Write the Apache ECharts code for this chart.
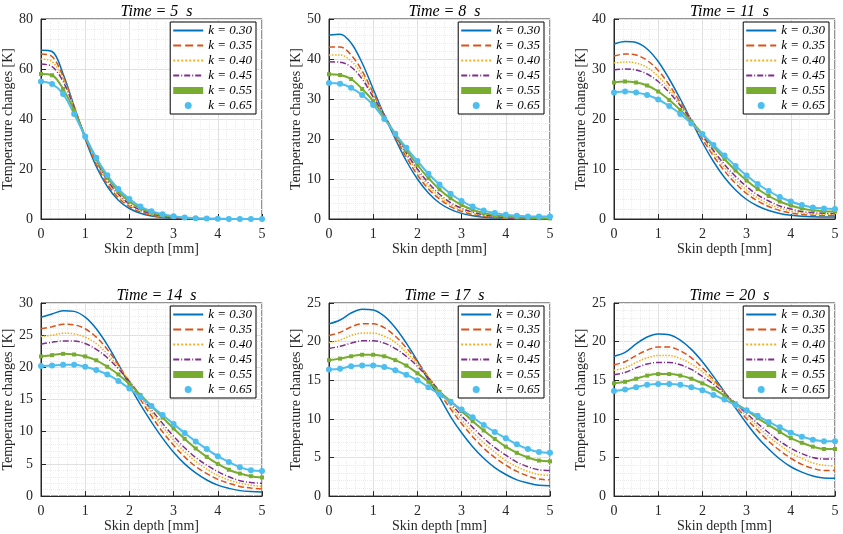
<!DOCTYPE html>
<html>
<head>
<meta charset="utf-8">
<script src="https://cdn.jsdelivr.net/npm/echarts@6/dist/echarts.min.js"></script>
<style>html,body{margin:0;background:#fff}#box{width:843px;height:534px}</style>
</head>
<body>
<div id="box"></div>
<script>
// skin depth samples (mm)
var depth = [0,0.25,0.5,0.75,1,1.25,1.5,1.75,2,2.25,2.5,2.75,3,3.25,3.5,3.75,4,4.25,4.5,4.75,5];
var kNames = ['k = 0.30','k = 0.35','k = 0.40','k = 0.45','k = 0.55','k = 0.65'];
var times = [5, 8, 11, 14, 17, 20];
var yMax = [80, 50, 40, 30, 25, 25];
var yStep = [20, 10, 10, 5, 5, 5];

var t5 = [
  [67.5,67,58,45,32,21,13,7.5,4.2,2.3,1.2,0.6,0.3,0.15,0.07,0.03,0.01,0,0,0,0],
  [66,65,57,45,32.5,22,14,8.5,5,2.8,1.5,0.8,0.4,0.2,0.1,0.05,0.02,0,0,0,0],
  [64,63,56,45,33,23,15,9.3,5.6,3.2,1.8,1,0.5,0.25,0.12,0.06,0.03,0.01,0,0,0],
  [62,61,55,44.5,33,23.5,15.5,10,6,3.6,2.1,1.2,0.6,0.3,0.15,0.08,0.04,0.02,0.01,0,0],
  [58,57.5,52,43.5,33,24,16.5,11,7,4.3,2.6,1.5,0.85,0.45,0.24,0.12,0.06,0.03,0.02,0.01,0],
  [55,54,50,42,33,24.5,17.5,12,8,5,3.1,1.9,1.1,0.6,0.35,0.2,0.1,0.05,0.03,0.02,0.01]
];
var t8 = [
  [46,46.2,44,39,32.5,26,20,14.5,10,6.5,4,2.4,1.4,0.8,0.45,0.25,0.12,0.06,0.03,0.01,0],
  [43,43,41,37,31.5,26,20.5,15.5,11,7.5,5,3.1,1.9,1.1,0.65,0.36,0.2,0.1,0.05,0.03,0.01],
  [41,41,39.5,36,31,26,21,16,11.8,8.3,5.6,3.6,2.3,1.4,0.85,0.5,0.28,0.15,0.08,0.05,0.03],
  [39.3,39.2,38,35,30.5,26,21,16.5,12.5,9,6.2,4.1,2.7,1.7,1.05,0.65,0.38,0.22,0.13,0.08,0.05],
  [36.2,36,35,32.5,29.5,25.5,21.2,17.2,13.5,10.2,7.4,5.2,3.5,2.3,1.5,1,0.65,0.4,0.28,0.2,0.15],
  [34,33.8,32.8,31,28.5,25,21.3,17.8,14.5,11.3,8.6,6.3,4.5,3.1,2.1,1.5,1.05,0.8,0.65,0.6,0.6]
];
var t11 = [
  [35,35.5,35.3,34,31.5,28,24,19.7,15.3,11.5,8.3,5.8,3.9,2.6,1.7,1.1,0.75,0.55,0.45,0.4,0.4],
  [32.6,33,32.8,31.7,29.7,26.8,23.3,19.7,16,12.6,9.6,7.1,5.1,3.6,2.5,1.7,1.2,0.9,0.75,0.7,0.7],
  [31.2,31.4,31.2,30.3,28.5,26,23,19.8,16.4,13.2,10.3,7.8,5.8,4.2,3,2.2,1.6,1.2,1,0.95,0.95],
  [29.8,30,29.8,29,27.5,25.3,22.7,19.8,16.7,13.7,10.9,8.5,6.5,4.8,3.6,2.6,2,1.5,1.25,1.15,1.1],
  [27.3,27.5,27.3,26.7,25.5,23.8,21.8,19.5,17,14.5,12,9.7,7.7,6,4.6,3.5,2.7,2.1,1.75,1.55,1.5],
  [25.3,25.5,25.3,24.8,23.9,22.6,21,19.1,17,14.8,12.7,10.6,8.7,7,5.6,4.4,3.5,2.8,2.3,2.1,2]
];
var t14 = [
  [27.8,28.3,28.8,28.7,27.8,26,23.5,20.5,17.2,14.2,11.5,9,6.8,5,3.6,2.5,1.7,1.2,0.85,0.7,0.65],
  [26,26.3,26.7,26.6,26,24.7,22.8,20.4,17.7,15,12.4,10,7.9,6.1,4.6,3.5,2.6,2,1.5,1.25,1.1],
  [24.8,25,25.3,25.2,24.7,23.7,22.1,20.1,17.9,15.4,13,10.8,8.7,6.9,5.4,4.2,3.2,2.5,2,1.7,1.5],
  [23.6,23.9,24.1,24.1,23.7,22.8,21.5,19.8,17.8,15.6,13.4,11.3,9.3,7.5,6,4.8,3.8,3,2.4,2.1,2],
  [21.7,21.9,22.1,22,21.7,21.1,20.1,18.9,17.4,15.7,14,12.2,10.5,8.9,7.4,6.1,5,4.1,3.5,3.1,2.9],
  [20.2,20.3,20.4,20.4,20.1,19.6,18.9,17.9,16.7,15.4,14,12.6,11.2,9.8,8.5,7.3,6.2,5.3,4.5,4,3.9]
];
var t17 = [
  [22.3,22.8,23.7,24.2,24.1,23.3,21.8,19.8,17.5,15,12.8,10.3,8.2,6.4,4.9,3.7,2.8,2.1,1.7,1.4,1.35],
  [20.8,21.2,21.9,22.3,22.3,21.8,20.7,19.2,17.4,15.4,13.3,11.3,9.4,7.7,6.2,5,4,3.2,2.6,2.2,2.1],
  [19.9,20.2,20.8,21.1,21.1,20.7,19.9,18.6,17.1,15.4,13.5,11.7,9.9,8.3,6.9,5.7,4.6,3.8,3.2,2.8,2.7],
  [19.1,19.4,19.8,20.1,20.1,19.8,19.1,18.1,16.8,15.3,13.6,12,10.4,8.9,7.5,6.3,5.3,4.4,3.8,3.4,3.3],
  [17.6,17.8,18.1,18.3,18.3,18.1,17.6,16.9,15.9,14.8,13.5,12.3,11,9.7,8.5,7.4,6.4,5.6,5,4.6,4.5],
  [16.4,16.5,16.8,16.9,16.9,16.7,16.3,15.7,15,14.1,13.2,12.2,11.2,10.2,9.2,8.3,7.5,6.7,6.1,5.7,5.6]
];
var t20 = [
  [18.1,18.6,19.7,20.6,21,20.9,20.2,19,17.4,15.5,13.5,11.4,9.4,7.6,6.1,4.8,3.8,3.1,2.6,2.35,2.3],
  [17,17.4,18.2,18.9,19.3,19.3,18.8,17.9,16.6,15.1,13.4,11.7,10,8.5,7.1,5.9,4.9,4.1,3.6,3.3,3.3],
  [16.3,16.6,17.3,17.9,18.2,18.2,17.8,17.1,16.1,14.8,13.4,11.8,10.4,9,7.7,6.6,5.6,4.9,4.3,4,3.9],
  [15.7,16,16.6,17.1,17.3,17.3,17,16.4,15.5,14.5,13.3,12,10.7,9.4,8.2,7.1,6.2,5.5,5,4.8,4.8],
  [14.6,14.8,15.2,15.6,15.8,15.8,15.6,15.2,14.6,13.9,13,12,11.1,10.1,9.2,8.3,7.5,6.9,6.4,6.1,6.1],
  [13.6,13.8,14.1,14.4,14.5,14.5,14.4,14.1,13.7,13.1,12.5,11.8,11.1,10.4,9.6,8.9,8.2,7.7,7.3,7.1,7.1]
];
var allData = [t5, t8, t11, t14, t17, t20];

var colors = ['#0072BD','#D95319','#EDB120','#7E2F8E','#77AC30','#4DBEEE'];
var lineTypes = ['solid','dashed','dotted',[6,2,1,2],'solid','solid'];
var symbols = ['none','none','none','none','rect','circle'];
var serif = 'Liberation Serif';

var gridLeft = [41, 329, 614];
var gridTop = [19, 303];
var gw = 221, gh = 200;

// legend entries: hide the marker for the plain lines
var legendData = kNames.map(function (n, i) {
    if (symbols[i] === 'none') return {name: n, itemStyle: {opacity: 0}};
    return {name: n, icon: symbols[i]};
});

var myChart = echarts.init(document.getElementById('box'));
var option = {
    animation: false,
    title: [], grid: [], xAxis: [], yAxis: [], legend: [], series: []
};

for (var p = 0; p < 6; p++) {
    var L = gridLeft[p % 3], T = gridTop[Math.floor(p / 3)];
    option.title.push({
        text: 'Time = ' + times[p] + '  s',
        left: L + gw / 2, top: T - 20, textAlign: 'center',
        textStyle: {fontFamily: serif, fontStyle: 'italic', fontWeight: 'normal', fontSize: 16, color: '#000'}
    });
    option.grid.push({left: L, top: T, width: gw, height: gh, show: true, borderColor: '#262626', borderWidth: 1});
    var axisCommon = {
        axisLine: {onZero: false, lineStyle: {color: '#262626'}},
        axisTick: {inside: true, lineStyle: {color: '#262626'}},
        axisLabel: {fontFamily: serif, fontSize: 14, color: '#262626'},
        splitLine: {lineStyle: {color: '#e0e0e0'}},
        minorTick: {show: true, splitNumber: 5, length: 0},
        minorSplitLine: {show: true, lineStyle: {color: '#ececec', type: 'dotted'}},
        nameTextStyle: {fontFamily: serif, fontSize: 14, color: '#262626'}
    };
    option.xAxis.push(Object.assign({
        gridIndex: p, type: 'value', min: 0, max: 5, interval: 1,
        name: 'Skin depth [mm]', nameLocation: 'middle', nameGap: 20
    }, axisCommon));
    option.yAxis.push(Object.assign({
        gridIndex: p, type: 'value', min: 0, max: yMax[p], interval: yStep[p],
        name: 'Temperature changes [K]', nameLocation: 'middle', nameGap: 25
    }, axisCommon));
    option.legend.push({
        data: legendData, orient: 'vertical',
        right: 843 - (L + gw) + 6, top: T + 3,
        backgroundColor: '#fff', borderColor: '#000', borderWidth: 1,
        padding: [2, 4, 2, 2], itemGap: 2, itemWidth: 30, itemHeight: 7,
        textStyle: {fontFamily: serif, fontStyle: 'italic', fontSize: 13, color: '#000'}
    });
    for (var s = 0; s < 6; s++) {
        var pts = depth.map(function (d, i) { return [d, allData[p][s][i]]; });
        option.series.push({
            name: kNames[s], type: 'line',
            xAxisIndex: p, yAxisIndex: p,
            data: pts, smooth: 0.35,
            symbol: symbols[s], symbolSize: s === 5 ? 6 : 4, showSymbol: symbols[s] !== 'none',
            color: colors[s],
            lineStyle: {width: s >= 4 ? 2 : 1.5, type: lineTypes[s], color: colors[s]},
            itemStyle: {color: colors[s]}
        });
    }
}

myChart.setOption(option);
</script>
</body>
</html>
